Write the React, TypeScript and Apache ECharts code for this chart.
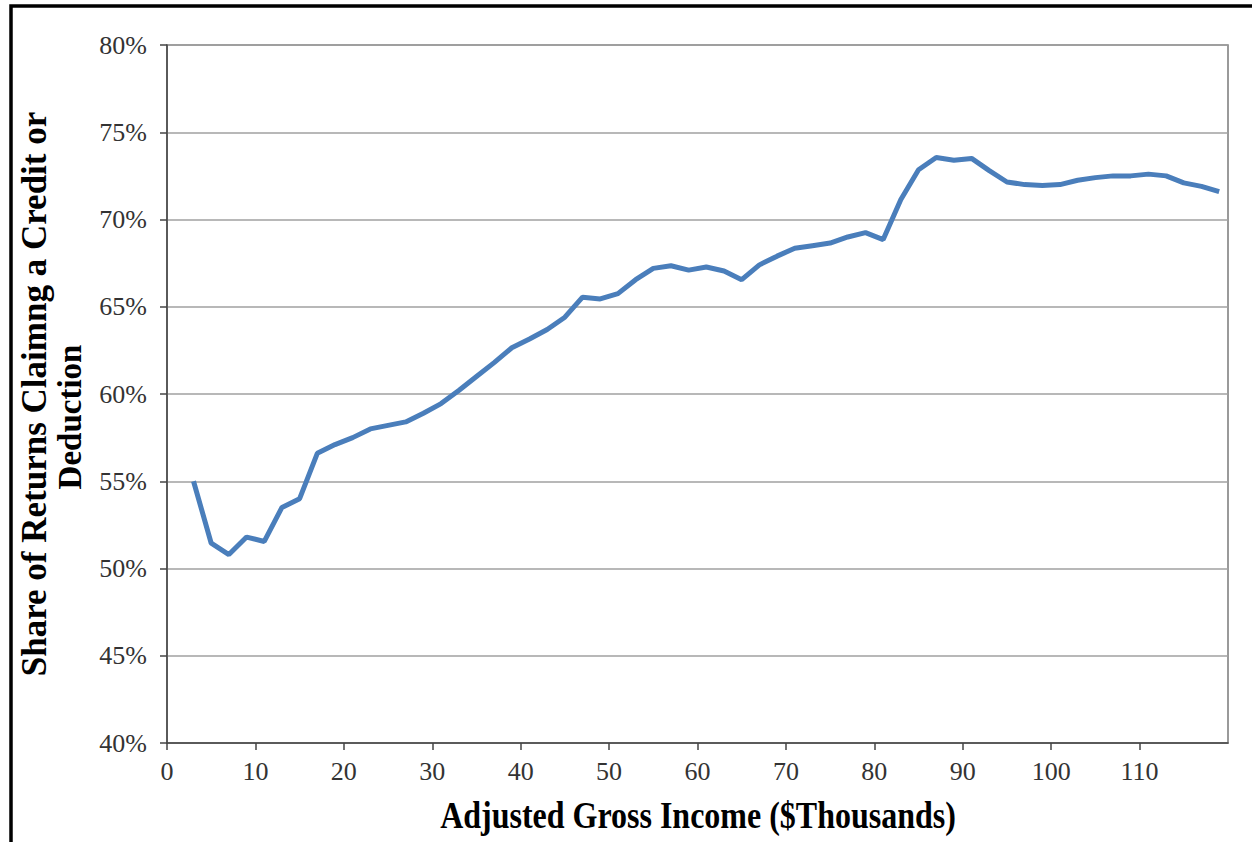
import React, { useEffect, useRef } from "react";
import * as echarts from "echarts";

const incomeK: number[] = [
  3, 5, 7, 9, 11, 13, 15, 17, 19, 21, 23, 25, 27, 29, 31, 33, 35, 37, 39, 41,
  43, 45, 47, 49, 51, 53, 55, 57, 59, 61, 63, 65, 67, 69, 71, 73, 75, 77, 79, 81,
  83, 85, 87, 89, 91, 93, 95, 97, 99, 101, 103, 105, 107, 109, 111, 113, 115, 117, 119,
];
const sharePct: number[] = [
  55.0, 51.45, 50.8, 51.8, 51.55, 53.5, 54.0, 56.6, 57.1, 57.5, 58.0, 58.2, 58.4, 58.9, 59.45, 60.2, 61.0, 61.8, 62.65, 63.15,
  63.7, 64.4, 65.55, 65.45, 65.75, 66.55, 67.2, 67.35, 67.1, 67.28, 67.05, 66.55, 67.4, 67.9, 68.35, 68.5, 68.65, 69.0, 69.25, 68.85,
  71.15, 72.85, 73.55, 73.4, 73.5, 72.8, 72.15, 72.0, 71.95, 72.0, 72.25, 72.4, 72.5, 72.5, 72.6, 72.5, 72.1, 71.9, 71.6,
];
const xTitle = "Adjusted Gross Income ($Thousands)";
const yTitleLines = ["Share of Returns Claimng a Credit or", "Deduction"];

const SERIF = "'Liberation Serif', 'DejaVu Serif', serif";

export default function App() {
  const ref = useRef<HTMLDivElement>(null);
  useEffect(() => {
    if (!ref.current) return;
    const chart = echarts.init(ref.current, undefined, { renderer: "svg" });
    const points = incomeK.map((x, i) => [x, sharePct[i]]);
    chart.setOption({
      animation: false,
      backgroundColor: "#ffffff",
      grid: {
        left: 167,
        top: 45,
        right: 24,
        bottom: 99,
        show: true,
        borderColor: "#7a7a7a",
        borderWidth: 1.5,
      },
      xAxis: {
        type: "value",
        min: 0,
        max: 120,
        interval: 10,
        axisLine: { show: true, onZero: false, lineStyle: { color: "#444", width: 1.5 } },
        axisTick: { show: true, length: 7, lineStyle: { color: "#444", width: 1.5 } },
        splitLine: { show: false },
        axisLabel: {
          showMaxLabel: false,
          margin: 15,
          fontFamily: SERIF,
          fontSize: 26,
          color: "#333",
        },
      },
      yAxis: {
        type: "value",
        min: 40,
        max: 80,
        interval: 5,
        axisLine: { show: true, lineStyle: { color: "#444", width: 1.5 } },
        axisTick: { show: true, length: 7, lineStyle: { color: "#444", width: 1.5 } },
        splitLine: { show: true, lineStyle: { color: "#a0a0a0", width: 1.5 } },
        axisLabel: {
          formatter: (v: number) => `${v}%`,
          margin: 20,
          fontFamily: SERIF,
          fontSize: 26,
          color: "#333",
        },
      },
      series: [
        {
          type: "line",
          data: points,
          showSymbol: false,
          symbol: "none",
          lineStyle: { color: "#4a7ebb", width: 5 },
        },
      ],
      graphic: [
        {
          type: "rect",
          shape: { x: 11, y: 6, width: 1300, height: 900 },
          style: { fill: "none", stroke: "#000", lineWidth: 3.5 },
          silent: true,
        },
        {
          type: "text",
          x: 698,
          y: 816,
          scaleY: 1.2,
          style: {
            text: xTitle,
            fontFamily: SERIF,
            fontWeight: "bold",
            fontSize: 32,
            fill: "#000",
            textAlign: "center",
            textVerticalAlign: "middle",
          },
        },
        {
          type: "text",
          x: 34,
          y: 394,
          rotation: Math.PI / 2,
          style: {
            text: yTitleLines[0],
            fontFamily: SERIF,
            fontWeight: "bold",
            fontSize: 35,
            fill: "#000",
            textAlign: "center",
            textVerticalAlign: "middle",
          },
        },
        {
          type: "text",
          x: 70,
          y: 417,
          rotation: Math.PI / 2,
          style: {
            text: yTitleLines[1],
            fontFamily: SERIF,
            fontWeight: "bold",
            fontSize: 33,
            fill: "#000",
            textAlign: "center",
            textVerticalAlign: "middle",
          },
        },
      ],
    });
    return () => chart.dispose();
  }, []);
  return (
    <div
      ref={ref}
      style={{ position: "fixed", left: 0, top: 0, width: 1252, height: 842, background: "#fff" }}
    />
  );
}
